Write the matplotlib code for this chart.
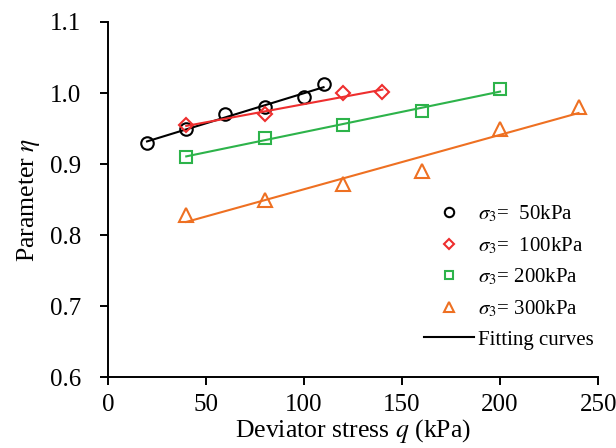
import numpy as np
import matplotlib
matplotlib.use('Agg')
from matplotlib import pyplot as plt
from matplotlib.lines import Line2D

plt.rcParams['font.family'] = ['Liberation Serif', 'DejaVu Serif']
plt.rcParams['mathtext.fontset'] = 'stix'

# data
q_50 = [20, 40, 60, 80, 100, 110]
eta_50 = [0.930, 0.950, 0.970, 0.980, 0.995, 1.012]
q_100 = [40, 80, 120, 140]
eta_100 = [0.955, 0.970, 1.000, 1.002]
q_200 = [40, 80, 120, 160, 200]
eta_200 = [0.910, 0.937, 0.955, 0.975, 1.005]
q_300 = [40, 80, 120, 160, 200, 240]
eta_300 = [0.829, 0.850, 0.872, 0.890, 0.950, 0.980]

labels = [r'$\sigma_3$=  50kPa', r'$\sigma_3$=  100kPa', r'$\sigma_3$= 200kPa', r'$\sigma_3$= 300kPa']
colors = ['black', '#EE2E2E', '#2DB34A', '#EE7022']
markers = ['o', 'D', 's', '^']
sizes = [9, 7, 8, 9.5]

series = [(q_50, eta_50), (q_100, eta_100), (q_200, eta_200), (q_300, eta_300)]

fig = plt.figure(figsize=(6.16, 4.48), dpi=100)
ax = fig.add_axes([0.175, 0.158, 0.796, 0.793])

handles = []
for (x, y), lab, c, m, s in zip(series, labels, colors, markers, sizes):
    ax.plot(x, y, linestyle='none', marker=m, markersize=s, markerfacecolor='none',
            markeredgecolor=c, markeredgewidth=1.5)
    # linear fit drawn over the range of each series
    k, b = np.polyfit(x, y, 1)
    xs = np.array([min(x), max(x)])
    ax.plot(xs, k * xs + b, color=c, lw=1.5)
    handles.append(Line2D([], [], linestyle='none', marker=m, markersize=s * 0.75,
                          markerfacecolor='none', markeredgecolor=c, markeredgewidth=1.5,
                          label=lab))
handles.append(Line2D([], [], color='black', lw=1.5, label='Fitting curves'))

ax.set_xlim(0, 250)
ax.set_ylim(0.6, 1.1)
ax.set_xticks([0, 50, 100, 150, 200, 250])
ax.set_yticks([0.6, 0.7, 0.8, 0.9, 1.0, 1.1])
ax.set_yticklabels(['0.6', '0.7', '0.8', '0.9', '1.0', '1.1'])
ax.spines['top'].set_visible(False)
ax.spines['right'].set_visible(False)
ax.spines['left'].set_linewidth(1.4)
ax.spines['bottom'].set_linewidth(1.4)
ax.tick_params(direction='out', length=6, width=1.4, labelsize=18)
ax.tick_params(axis='x', pad=6)
ax.tick_params(axis='y', pad=13)

ax.set_xlabel(r'Deviator stress $q$ (kPa)', fontsize=18.5, labelpad=1)
ax.set_ylabel(r'Parameter $\eta$', fontsize=18.5, labelpad=6)

ax.legend(handles=handles, loc='lower right', bbox_to_anchor=(1.03, 0.025), frameon=False,
          fontsize=15, handlelength=2.4, handletextpad=0.2, labelspacing=0.52)

plt.savefig('out.png', dpi=100)
plt.close()
